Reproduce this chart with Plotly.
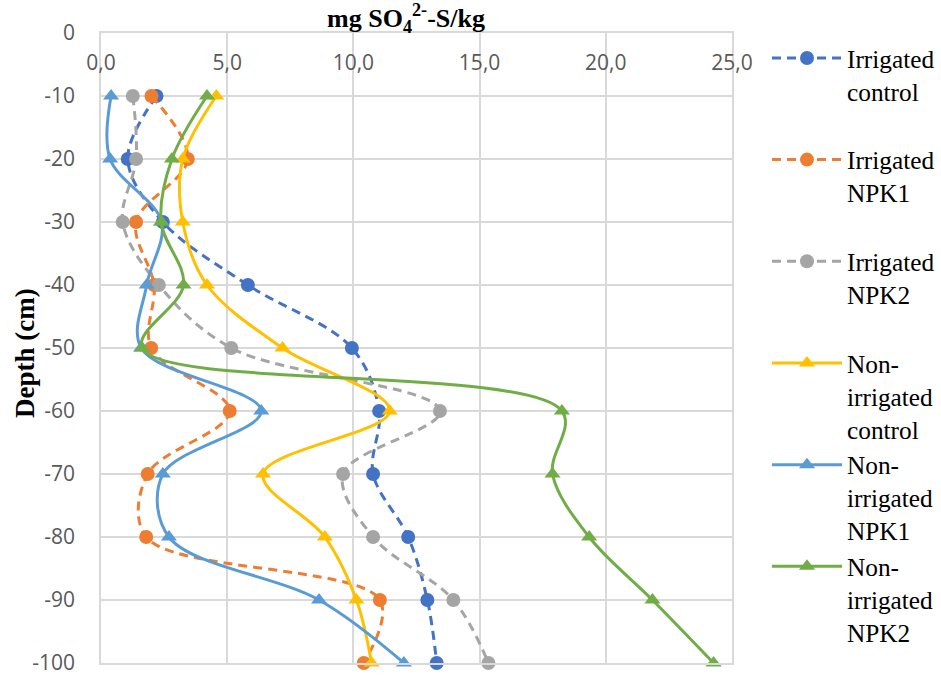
import plotly.graph_objects as go

# Sampling depths (cm, negative = below surface)
depth = [-10, -20, -30, -40, -50, -60, -70, -80, -90, -100]

# Sulphate-S content, mg SO4(2-)-S per kg soil
irrigated_control = [2.2, 1.06, 2.45, 5.82, 9.94, 11.02, 10.78, 12.17, 12.93, 13.30]
irrigated_npk1 = [2.0, 3.44, 1.39, 2.1, 1.99, 5.1, 1.85, 1.79, 11.05, 10.41]
irrigated_npk2 = [1.26, 1.39, 0.86, 2.29, 5.16, 13.43, 9.59, 10.78, 13.96, 15.35]
nonirr_control = [4.57, 3.24, 3.24, 4.2, 7.19, 11.44, 6.42, 8.87, 10.12, 10.72]
nonirr_npk1 = [0.40, 0.36, 2.4, 1.81, 1.59, 6.35, 2.45, 2.69, 8.64, 12.0]
nonirr_npk2 = [4.2, 2.81, 2.38, 3.27, 1.63, 18.26, 17.89, 19.34, 21.85, 24.27]

series_names = [
    "Irrigated<br>control<br> ",
    "Irrigated<br>NPK1<br> ",
    "Irrigated<br>NPK2<br> ",
    "Non-<br>irrigated<br>control",
    "Non-<br>irrigated<br>NPK1",
    "Non-<br>irrigated<br>NPK2",
]

x_tick_values = [0, 5, 10, 15, 20, 25]
x_tick_labels = ["0,0", "5,0", "10,0", "15,0", "20,0", "25,0"]
y_tick_values = [0, -10, -20, -30, -40, -50, -60, -70, -80, -90, -100]
y_tick_labels = ["0", "-10", "-20", "-30", "-40", "-50", "-60", "-70", "-80", "-90", "-100"]

series_values = [irrigated_control, irrigated_npk1, irrigated_npk2,
                 nonirr_control, nonirr_npk1, nonirr_npk2]
colors = ["#4472C4", "#ED7D31", "#A5A5A5", "#FFC000", "#5B9BD5", "#70AD47"]

W, H = 941, 677
M_L, M_R, M_T, M_B = 101, 209, 33, 14
PLOT_W, PLOT_H = W - M_L - M_R, H - M_T - M_B

fig = go.Figure()
for i, (name, vals, col) in enumerate(zip(series_names, series_values, colors)):
    irrigated = i < 3
    fig.add_trace(go.Scatter(
        x=vals, y=depth, name=name, mode="lines+markers", cliponaxis=False,
        line=dict(color=col, width=3, shape="spline", smoothing=1.0,
                  dash="9px,6px" if irrigated else "solid"),
        marker=dict(color=col, size=14,
                    symbol="circle" if irrigated else "triangle-up"),
    ))

tick_font = dict(family="Open Sans", size=21, color="#595959")
serif = "Liberation Serif"

fig.update_layout(
    width=W, height=H,
    margin=dict(l=M_L, r=M_R, t=M_T, b=M_B),
    paper_bgcolor="white", plot_bgcolor="white",
    title=dict(
        text="mg SO<sub>4</sub><sup>2-</sup>-S/kg",
        x=406 / W, xanchor="center", xref="container",
        y=1 - 18 / H, yanchor="middle", yref="container",
        font=dict(family=serif, size=26, color="black", weight="bold"),
    ),
    xaxis=dict(
        range=[0, 25], side="top", automargin=False,
        tickvals=x_tick_values, ticktext=x_tick_labels,
        ticklabelposition="inside", ticklabelstandoff=24,
        ticklabeloverflow="allow",
        tickfont=tick_font, ticks="",
        showgrid=True, gridcolor="#D9D9D9", gridwidth=1.5,
        showline=True, linecolor="#D9D9D9", linewidth=1.5, mirror=True,
        zeroline=False,
    ),
    yaxis=dict(
        range=[-100, 0], automargin=False,
        tickvals=y_tick_values, ticktext=y_tick_labels,
        tickfont=tick_font, ticks="", ticklabelstandoff=20,
        ticklabeloverflow="allow",
        showgrid=True, gridcolor="#D9D9D9", gridwidth=1.5,
        showline=True, linecolor="#D9D9D9", linewidth=1.5, mirror=True,
        zeroline=False,
    ),
    legend=dict(
        x=767 / W, xanchor="left", xref="container",
        y=1 - 35 / H, yanchor="top", yref="container",
        maxheight=660,
        font=dict(family=serif, size=25.3, color="black"),
        itemwidth=70, valign="top", tracegroupgap=0,
        bgcolor="rgba(0,0,0,0)",
    ),
    showlegend=True,
    annotations=[dict(
        text="<b>Depth (cm)</b>", textangle=-90,
        xref="paper", x=(25 - M_L) / PLOT_W,
        yref="paper", y=(H - M_B - 353) / PLOT_H,
        showarrow=False, xanchor="center", yanchor="middle",
        font=dict(family=serif, size=27, color="black"),
    )],
)

fig.write_html("out.html")
